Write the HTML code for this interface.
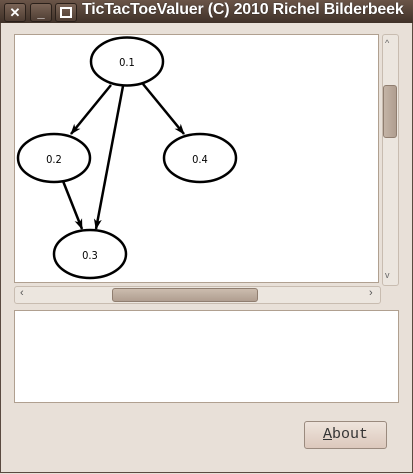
<!DOCTYPE html>
<html><head><meta charset="utf-8"><style>
html,body{margin:0;padding:0;}
body{width:413px;height:474px;position:relative;overflow:hidden;background:#e8e0d8;font-family:"Liberation Sans",sans-serif;}
.title{position:absolute;left:0;top:0;width:413px;height:23px;background:linear-gradient(#6a5548,#3f3128);}
.tb{position:absolute;top:3px;width:20px;height:17px;border:1px solid #2a201a;border-radius:3px;background:linear-gradient(#7a6456,#4e3d33);color:#fff;font-size:13px;font-weight:bold;text-align:center;line-height:17px;}
.ttl{position:absolute;left:82px;top:1px;color:#fff;font-weight:bold;font-size:16px;white-space:nowrap;text-shadow:0 0 1px #000;letter-spacing:-0.2px;}
.win{position:absolute;left:0;top:23px;width:411px;height:449px;border:1px solid #5a4a40;border-top:none;}
.box{position:absolute;background:#fff;border:1px solid #b0a090;}
.sb{position:absolute;background:#ece6df;border:1px solid #c8bcb0;border-radius:3px;}
.thumb{position:absolute;background:linear-gradient(90deg,#c4b4a6,#b09e90);border:1px solid #907e70;border-radius:3px;}
.btn{position:absolute;left:304px;top:421px;width:81px;height:26px;border:1px solid #9a8a7e;border-radius:3px;background:linear-gradient(#eee4dc,#dcc8bc);font-family:"Liberation Mono",monospace;font-size:15px;color:#333;text-align:center;line-height:26px;}
</style></head><body>
<div class="title">
<div class="tb" style="left:4px">✕</div>
<div class="tb" style="left:30px">_</div>
<div class="tb" style="left:55px"><div style="width:8px;height:7px;border:2px solid #fff;margin:3px auto"></div></div>
<div class="ttl">TicTacToeValuer (C) 2010 Richel Bilderbeek</div>
</div>
<div class="win"></div>
<div class="box" style="left:14px;top:34px;width:363px;height:247px;"></div>
<svg style="position:absolute;left:0;top:0" width="413" height="474">
<defs><marker id="a" markerWidth="11" markerHeight="10" refX="10" refY="5" orient="auto" markerUnits="userSpaceOnUse"><path d="M0,1 L11,5 L0,9 L3,5 z" fill="#000"/></marker></defs>
<g fill="none" stroke="#000" stroke-width="2.5">
<ellipse cx="127" cy="61.5" rx="36" ry="24"/>
<ellipse cx="54" cy="158" rx="36" ry="24"/>
<ellipse cx="200" cy="158" rx="36" ry="24"/>
<ellipse cx="90" cy="254" rx="36" ry="24"/>
<line x1="111" y1="85" x2="71" y2="134" marker-end="url(#a)"/>
<line x1="123" y1="86" x2="96" y2="229" marker-end="url(#a)"/>
<line x1="143" y1="84" x2="184" y2="134" marker-end="url(#a)"/>
<line x1="63" y1="181" x2="82" y2="229" marker-end="url(#a)"/>
</g>
<g font-family="DejaVu Sans Condensed,Liberation Sans,sans-serif" font-size="11" text-anchor="middle">
<text x="127" y="66">0.1</text><text x="54" y="163">0.2</text><text x="200" y="163">0.4</text><text x="90" y="259">0.3</text>
</g>
</svg>
<div class="sb" style="left:382px;top:34px;width:15px;height:250px;"></div>
<div class="thumb" style="left:383px;top:85px;width:12px;height:51px;"></div>
<div style="position:absolute;left:385px;top:38px;font-size:9px;color:#666">^</div>
<div style="position:absolute;left:385px;top:270px;font-size:9px;color:#666">v</div>
<div class="sb" style="left:14px;top:286px;width:365px;height:16px;"></div>
<div class="thumb" style="left:112px;top:288px;width:144px;height:12px;background:linear-gradient(#cbbcae,#b09e90);"></div>
<div style="position:absolute;left:20px;top:287px;font-size:11px;color:#555">‹</div>
<div style="position:absolute;left:369px;top:287px;font-size:11px;color:#555">›</div>
<div class="box" style="left:14px;top:310px;width:383px;height:91px;"></div>
<div class="btn"><u>A</u>bout</div>
</body></html>
